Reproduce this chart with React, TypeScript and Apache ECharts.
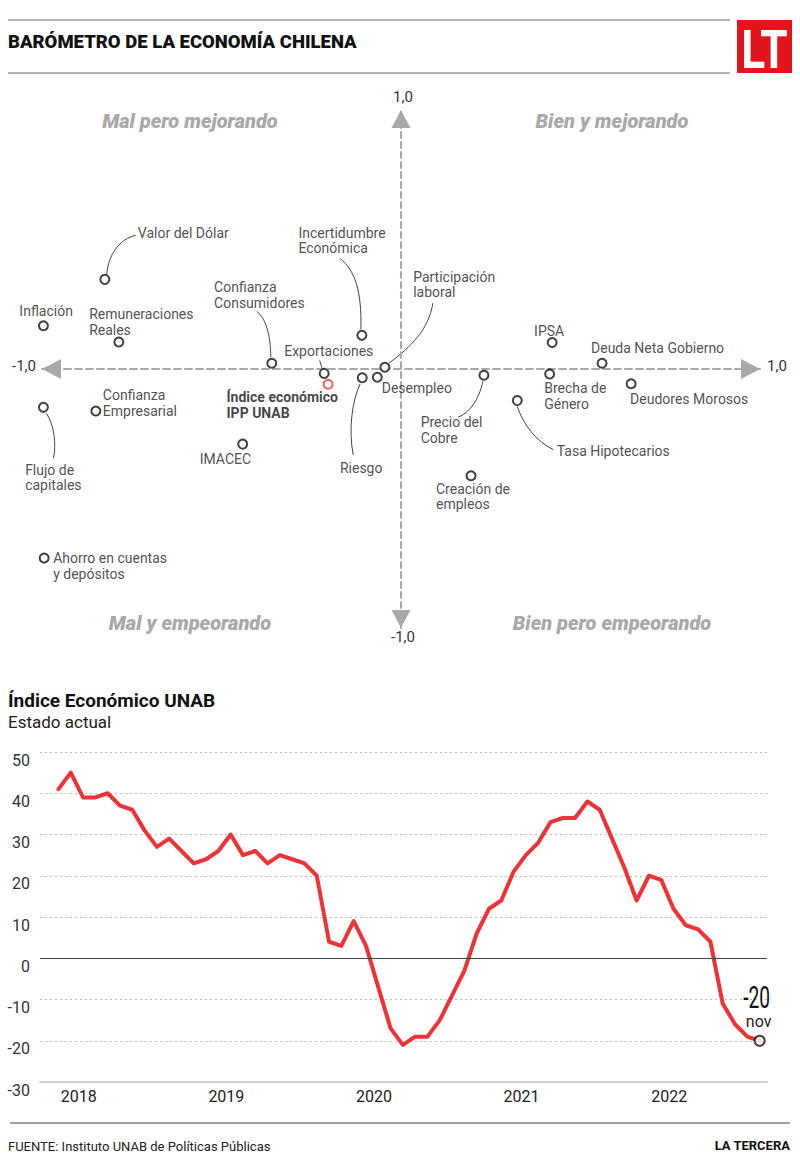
import React, { useEffect, useRef } from "react";
import * as echarts from "echarts";

const FONT = 'Roboto, "Noto Sans", "DejaVu Sans", sans-serif';

// ---------- Barómetro (scatter) data ----------
const pointNames = [
  "Valor del Dólar",
  "Inflación",
  "Remuneraciones\nReales",
  "Confianza\nConsumidores",
  "Incertidumbre\nEconómica",
  "Exportaciones",
  "Índice económico\nIPP UNAB",
  "Riesgo",
  "Desempleo",
  "Participación\nlaboral",
  "Confianza\nEmpresarial",
  "Flujo de\ncapitales",
  "IMACEC",
  "IPSA",
  "Deuda Neta Gobierno",
  "Precio del\nCobre",
  "Brecha de\nGénero",
  "Deudores Morosos",
  "Tasa Hipotecarios",
  "Creación de\nempleos",
  "Ahorro en cuentas\ny depósitos",
];
const pointX = [-0.825, -0.996, -0.786, -0.36, -0.109, -0.214, -0.203, -0.108, -0.066, -0.045, -0.85, -0.996, -0.441, 0.421, 0.56, 0.231, 0.414, 0.641, 0.324, 0.195, -0.994];
const pointY = [0.346, 0.167, 0.104, 0.022, 0.13, -0.017, -0.059, -0.034, -0.032, 0.007, -0.162, -0.148, -0.29, 0.102, 0.022, -0.024, -0.019, -0.057, -0.122, -0.412, -0.73];
const highlightIndex = 6;

const quadrantNames = ["Mal pero mejorando", "Bien y mejorando", "Mal y empeorando", "Bien pero empeorando"];
const axisEndLabels = ["1,0", "-1,0", "-1,0", "1,0"]; // top, bottom, left, right

// ---------- Índice Económico UNAB (line) data ----------
const indexValues = [
  41, 45, 39, 39, 40, 37, 36, 31, 27, 29, 26, 23, 24, 26, 30, 25, 26, 23, 25, 24, 23, 20, 4, 3, 9, 3, -7, -17,
  -21, -19, -19, -15, -9, -3, 6, 12, 14, 21, 25, 28, 33, 34, 34, 38, 36, 29, 22, 14, 20, 19, 12, 8, 7, 4, -11, -16, -19, -20,
];
const lastMonthLabel = "nov";
const yearLabels = ["2018", "2019", "2020", "2021", "2022"];
const yearTickPositions = [1.65, 13.65, 25.65, 37.65, 49.65];

// ---------- layout (label offsets relative to each point, pixels) ----------
const labelLayout: [number, number, string][] = [
  [33, -46.6, "left"],
  [2.7, -14.7, "center"],
  [-29.7, -20.3, "left"],
  [-57.7, -68.3, "left"],
  [-63.4, -94.8, "left"],
  [-40, -22.3, "left"],
  [-101.6, 20.7, "left"],
  [-22.3, 90, "left"],
  [4.4, 10.7, "left"],
  [28.3, -82.8, "left"],
  [7, -8, "left"],
  [-18.3, 70.4, "left"],
  [-17.3, 15.3, "center"],
  [-3, -12, "center"],
  [-11, -15, "left"],
  [-63.3, 54.7, "left"],
  [-5.4, 22, "left"],
  [-1, 15.3, "left"],
  [39.4, 50.6, "left"],
  [-35, 20.8, "left"],
  [9, 8, "left"],
];
// leader curves: [x1,y1,cpx1,cpy1,cpx2,cpy2,x2,y2] relative to point
const leaders: (number[] | null)[] = [
  [2, -5, 3, -24, 15, -41, 31, -44],
  null,
  null,
  [-1, -6, -1, -28, -6, -45, -15, -52],
  [-1, -6, 0, -45, -7, -65, -22, -77],
  [-2, -5, -3, -8, -4, -11, -4.5, -13],
  null,
  [-2, 6, -10, 22, -14, 52, -9, 77],
  null,
  [4, -4, 26, -20, 44, -38, 48, -64],
  null,
  [3, 6, 11, 18, 13, 38, 10, 51],
  null,
  null,
  null,
  [-1, 6, -5, 25, -15, 38, -26, 42],
  null,
  null,
  [0, 6, 6, 24, 19, 41, 36, 49],
  null,
  null,
];

const GRAY = "#a9a9a9";

function txt(x: number, y: number, text: string, font: string, fill: string, align = "left", vAlign = "middle", extra: any = {}) {
  return {
    type: "text",
    x,
    y,
    silent: true,
    ...extra,
    style: { text, font, fill, textAlign: align, textVerticalAlign: vAlign },
  };
}

export default function App() {
  const ref = useRef<HTMLDivElement>(null);

  useEffect(() => {
    const el = ref.current!;
    const chart = echarts.init(el, null, { renderer: "svg" });

    const scatterData = pointNames.map((name, i) => {
      const [dx, dy, align] = labelLayout[i];
      const hl = i === highlightIndex;
      return {
        name,
        value: [pointX[i], pointY[i]],
        itemStyle: { color: "#fff", borderColor: hl ? "#ea3a40" : "#111", borderWidth: 2 },
        label: {
          show: true,
          formatter: name,
          position: "inside",
          offset: [dx, dy],
          align,
          verticalAlign: "middle",
          fontFamily: FONT,
          fontSize: 14,
          lineHeight: 15.5,
          fontWeight: hl ? "bold" : "normal",
          color: hl ? "#111" : "#222",
        },
      };
    });

    const lastIdx = indexValues.length - 1;
    const lastVal = indexValues[lastIdx];

    const option: any = {
      animation: false,
      backgroundColor: "#fff",
      textStyle: { fontFamily: FONT },
      grid: [
        { left: 42, right: 40, top: 110, bottom: 543 },
        { left: 40, right: 33, top: 752, bottom: 89 },
      ],
      xAxis: [
        {
          gridIndex: 0,
          type: "value",
          min: -1,
          max: 1,
          axisLine: {
            show: true,
            onZero: true,
            symbol: ["triangle", "triangle"],
            symbolSize: [20, 19],
            symbolOffset: [9.5, -9.5],
            lineStyle: { color: GRAY, width: 2, type: [7, 4] },
          },
          axisTick: { show: false },
          axisLabel: { show: false },
          splitLine: { show: false },
        },
        {
          gridIndex: 1,
          type: "value",
          min: -1.5,
          max: 57.6,
          axisLine: { show: true, onZero: false, lineStyle: { color: "#cfcfcf", width: 2 } },
          axisTick: { show: false },
          splitLine: { show: false },
          axisLabel: {
            customValues: yearTickPositions,
            formatter: (v: number) => {
              let best = 0;
              yearTickPositions.forEach((p, k) => {
                if (Math.abs(p - v) < Math.abs(yearTickPositions[best] - v)) best = k;
              });
              return yearLabels[best];
            },
            fontFamily: FONT,
            fontSize: 16,
            color: "#222",
            margin: 6,
          },
        },
      ],
      yAxis: [
        {
          gridIndex: 0,
          type: "value",
          min: -1,
          max: 1,
          axisLine: {
            show: true,
            onZero: true,
            symbol: ["triangle", "triangle"],
            symbolSize: [19, 18],
            symbolOffset: [9, -9],
            lineStyle: { color: GRAY, width: 2, type: [6, 4] },
          },
          axisTick: { show: false },
          axisLabel: { show: false },
          splitLine: { show: false },
        },
        {
          gridIndex: 1,
          type: "value",
          min: -30,
          max: 50,
          interval: 10,
          axisLine: { show: false },
          axisTick: { show: false },
          axisLabel: { fontFamily: FONT, fontSize: 16, color: "#333", margin: 10, verticalAlign: "top" },
          splitLine: { show: true, lineStyle: { color: "#bdbdbd", width: 1, type: [2, 3] } },
        },
      ],
      series: [
        {
          type: "scatter",
          xAxisIndex: 0,
          yAxisIndex: 0,
          symbol: "circle",
          symbolSize: 9,
          data: scatterData,
          z: 4,
        },
        {
          type: "line",
          xAxisIndex: 1,
          yAxisIndex: 1,
          data: [],
          z: 1,
          silent: true,
          markLine: {
            silent: true,
            symbol: "none",
            label: { show: false },
            lineStyle: { color: "#444", width: 1, type: "solid" },
            data: [{ yAxis: 0 }],
          },
        },
        {
          type: "line",
          xAxisIndex: 1,
          yAxisIndex: 1,
          data: indexValues.map((v, i) => [i, v]),
          symbol: "none",
          lineStyle: { color: "#ee3338", width: 4, cap: "round", join: "round" },
          z: 3,
        },
        {
          type: "scatter",
          xAxisIndex: 1,
          yAxisIndex: 1,
          data: [[lastIdx, lastVal]],
          symbol: "circle",
          symbolSize: 10,
          itemStyle: { color: "#fff", borderColor: "#111", borderWidth: 2 },
          z: 5,
        },
      ],
    };

    chart.setOption(option);

    const px = (g: number, p: number[]) => chart.convertToPixel({ gridIndex: g } as any, p) as number[];

    const graphics: any[] = [
      { type: "line", silent: true, shape: { x1: 8, y1: 20, x2: 730, y2: 20 }, style: { stroke: "#9a9a9a", lineWidth: 1.5 } },
      txt(8, 42, "BARÓMETRO DE LA ECONOMÍA CHILENA", `900 18.5px ${FONT}`, "#111"),
      { type: "line", silent: true, shape: { x1: 8, y1: 73, x2: 730, y2: 73 }, style: { stroke: "#9a9a9a", lineWidth: 1.5 } },
      { type: "rect", silent: true, shape: { x: 737, y: 20, width: 55, height: 53 }, style: { fill: "#e2151c" } },
      txt(764.5, 49, "LT", `bold 54px ${FONT}`, "#fff", "center", "middle", { scaleX: 0.82 }),
      txt(190, 121, quadrantNames[0], `italic 900 20px ${FONT}`, GRAY, "center"),
      txt(612, 121, quadrantNames[1], `italic 900 20px ${FONT}`, GRAY, "center"),
      txt(190, 623, quadrantNames[2], `italic 900 20px ${FONT}`, GRAY, "center"),
      txt(612, 623, quadrantNames[3], `italic 900 20px ${FONT}`, GRAY, "center"),
      txt(8, 700, "Índice Económico UNAB", `bold 19px ${FONT}`, "#111"),
      txt(8, 722, "Estado actual", `17px ${FONT}`, "#222"),
      { type: "line", silent: true, shape: { x1: 10, y1: 1123, x2: 790, y2: 1123 }, style: { stroke: "#444", lineWidth: 1 } },
      txt(8, 1146, "FUENTE: Instituto UNAB de Políticas Públicas", `13px ${FONT}`, "#222"),
      txt(790, 1145, "LA TERCERA", `bold 13px ${FONT}`, "#111", "right"),
    ];

    // axis end labels
    const top = px(0, [0, 1]);
    const bottom = px(0, [0, -1]);
    const left = px(0, [-1, 0]);
    const right = px(0, [1, 0]);
    graphics.push(txt(top[0] + 2, top[1] - 13, axisEndLabels[0], `15px ${FONT}`, "#333", "center"));
    graphics.push(txt(bottom[0] + 2, bottom[1] + 9, axisEndLabels[1], `15px ${FONT}`, "#333", "center"));
    graphics.push(txt(left[0] - 6, left[1] - 3, axisEndLabels[2], `15px ${FONT}`, "#333", "right"));
    graphics.push(txt(right[0] + 7, right[1] - 3, axisEndLabels[3], `15px ${FONT}`, "#333", "left"));

    // leader curves
    leaders.forEach((L, i) => {
      if (!L) return;
      const [cx, cy] = px(0, [pointX[i], pointY[i]]);
      graphics.push({
        type: "bezierCurve",
        silent: true,
        shape: {
          x1: cx + L[0], y1: cy + L[1],
          cpx1: cx + L[2], cpy1: cy + L[3],
          cpx2: cx + L[4], cpy2: cy + L[5],
          x2: cx + L[6], y2: cy + L[7],
        },
        style: { stroke: "#444", lineWidth: 1, fill: "none" },
      });
    });

    // last value annotation
    const lp = px(1, [lastIdx, lastVal]);
    graphics.push(
      txt(lp[0] - 3, lp[1] - 44, String(lastVal), `32px ${FONT}`, "#111", "center", "middle", { scaleX: 0.6 })
    );
    graphics.push(txt(lp[0] - 1, lp[1] - 19, lastMonthLabel, `16px ${FONT}`, "#222", "center"));

    chart.setOption({ graphic: graphics });

    return () => chart.dispose();
  }, []);

  return (
    <div
      ref={ref}
      style={{ position: "absolute", left: 0, top: 0, width: 800, height: 1171, background: "#fff" }}
    />
  );
}
